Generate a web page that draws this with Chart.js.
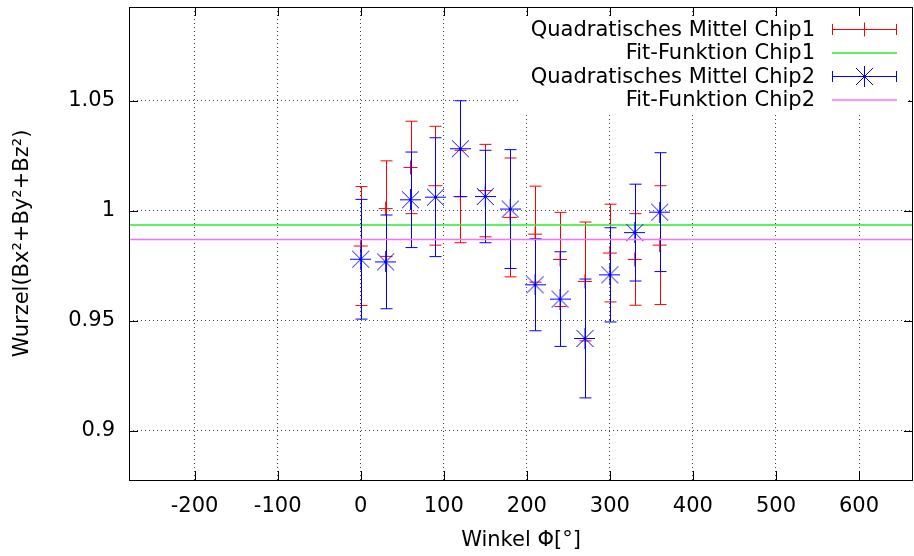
<!DOCTYPE html>
<html>
<head>
<meta charset="utf-8">
<script src="https://cdn.jsdelivr.net/npm/chart.js@4"></script>
<style>
  html, body { margin: 0; padding: 0; background: #fff; }
  #wrap { width: 914px; height: 556px; }
</style>
</head>
<body>
<div id="wrap"><canvas id="myChart" width="914" height="556"></canvas></div>
<script>
// Winkel in Grad
const winkel = [0, 30, 60, 90, 120, 150, 180, 210, 240, 270, 300, 330, 360];

// Chip1: Mittelwert und Fehler
const chip1Mittel = [0.984, 1.001, 1.0197, 1.0114, 1.0065, 1.0092, 0.997, 0.9894, 0.9779, 0.9679, 0.9808, 0.9779, 0.9844];
const chip1Fehler = [0.027, 0.0217, 0.021, 0.027, 0.021, 0.021, 0.027, 0.0218, 0.0214, 0.027, 0.0222, 0.0208, 0.027];

// Chip2: Mittelwert und Fehler
const chip2Mittel = [0.978, 0.9768, 1.005, 1.0062, 1.0282, 1.0065, 1.0008, 0.9664, 0.9599, 0.942, 0.9709, 0.9901, 0.9994];
const chip2Fehler = [0.0272, 0.0213, 0.0217, 0.027, 0.0218, 0.021, 0.027, 0.0209, 0.0215, 0.027, 0.0214, 0.022, 0.027];

// konstante Fit-Funktionen
const fitChip1 = 0.9935;
const fitChip2 = 0.987;

const xBereich = [-279, 665];
const yBereich = [0.8777, 1.0926];

const schrift = { family: "'DejaVu Sans', sans-serif", size: 21 };

function punkte(ys) {
    return winkel.map((w, i) => ({ x: w, y: ys[i] }));
}
function konstante(c) {
    return xBereich.map(x => ({ x: x, y: c }));
}

// gnuplot-Stern: + und x gleich gross
function sternBild(r, farbe) {
    const c = document.createElement('canvas');
    c.width = c.height = 2 * r + 1;
    const g = c.getContext('2d');
    g.strokeStyle = farbe;
    g.lineWidth = 1;
    const m = r + 0.5, d = r * 0.85;
    g.beginPath();
    g.moveTo(0, m); g.lineTo(2 * r + 1, m);
    g.moveTo(m, 0); g.lineTo(m, 2 * r + 1);
    g.moveTo(m - d, m - d); g.lineTo(m + d, m + d);
    g.moveTo(m - d, m + d); g.lineTo(m + d, m - d);
    g.stroke();
    return c;
}

// Fehlerbalken zeichnen (unter den Punkten)
const errorBars = {
    id: 'errorBars',
    beforeDatasetDraw(chart, args) {
        const ds = chart.data.datasets[args.index];
        if (!ds.fehler) return;
        const ctx = chart.ctx;
        const xs = chart.scales.x, ys = chart.scales.y;
        ctx.save();
        ctx.strokeStyle = ds.borderColor;
        ctx.lineWidth = 1;
        ds.data.forEach((p, i) => {
            const px = Math.round(xs.getPixelForValue(p.x)) + 0.5;
            const lo = ys.getPixelForValue(p.y - ds.fehler[i]);
            const hi = ys.getPixelForValue(p.y + ds.fehler[i]);
            ctx.beginPath();
            ctx.moveTo(px, lo); ctx.lineTo(px, hi);
            ctx.moveTo(px - 6, lo); ctx.lineTo(px + 6, lo);
            ctx.moveTo(px - 6, hi); ctx.lineTo(px + 6, hi);
            ctx.stroke();
        });
        ctx.restore();
    }
};

// Rahmen und Striche nach innen (gnuplot-Stil)
const frame = {
    id: 'frame',
    afterDatasetsDraw(chart) {
        const ctx = chart.ctx;
        const a = chart.chartArea;
        const xs = chart.scales.x, ys = chart.scales.y;
        ctx.save();
        ctx.strokeStyle = '#000';
        ctx.lineWidth = 1;
        ctx.beginPath();
        xs.ticks.forEach(t => {
            const px = Math.round(xs.getPixelForValue(t.value)) + 0.5;
            ctx.moveTo(px, a.bottom); ctx.lineTo(px, a.bottom - 9);
            ctx.moveTo(px, a.top); ctx.lineTo(px, a.top + 9);
        });
        ys.ticks.forEach(t => {
            const py = Math.round(ys.getPixelForValue(t.value)) + 0.5;
            ctx.moveTo(a.left, py); ctx.lineTo(a.left + 9, py);
            ctx.moveTo(a.right, py); ctx.lineTo(a.right - 9, py);
        });
        ctx.stroke();
        ctx.strokeRect(Math.round(a.left) + 0.5, Math.round(a.top) + 0.5,
            Math.round(a.right - a.left) - 1, Math.round(a.bottom - a.top));
        ctx.restore();
    }
};

// Legende rechts oben, Text rechtsbündig, Muster rechts daneben
const legende = {
    id: 'legende',
    afterDraw(chart) {
        const ctx = chart.ctx;
        ctx.save();
        ctx.fillStyle = '#fff';
        ctx.fillRect(520, 17, 388, 96);
        ctx.font = schrift.size + 'px ' + schrift.family;
        ctx.textAlign = 'right';
        ctx.textBaseline = 'middle';
        chart.data.datasets.forEach((ds, i) => {
            const y = 29.5 + i * 23.5;
            ctx.fillStyle = '#000';
            ctx.fillText(ds.label, 815, y + 1);
            ctx.strokeStyle = ds.borderColor;
            ctx.lineWidth = ds.fehler ? 1 : ds.borderWidth;
            ctx.beginPath();
            ctx.moveTo(832, y); ctx.lineTo(897, y);
            if (ds.fehler) {
                ctx.moveTo(832.5, y - 5.5); ctx.lineTo(832.5, y + 5.5);
                ctx.moveTo(896.5, y - 5.5); ctx.lineTo(896.5, y + 5.5);
            }
            ctx.stroke();
            if (ds.fehler) {
                ctx.strokeStyle = ds.borderColor;
                Chart.helpers.drawPoint(ctx, {
                    pointStyle: ds.pointStyle, radius: ds.pointRadius, rotation: 0, borderWidth: 1
                }, 864.5, y);
            }
        });
        ctx.restore();
    }
};

const ctx = document.getElementById('myChart').getContext('2d');
const myChart = new Chart(ctx, {
    type: 'scatter',
    data: {
        datasets: [
            {
                label: 'Quadratisches Mittel Chip1',
                data: punkte(chip1Mittel),
                fehler: chip1Fehler,
                borderColor: 'rgb(255, 0, 0)',
                backgroundColor: 'rgb(255, 0, 0)',
                pointStyle: 'cross',
                pointRadius: 7,
                borderWidth: 1,
                order: 4
            },
            {
                label: 'Fit-Funktion Chip1',
                data: konstante(fitChip1),
                showLine: true,
                borderColor: 'rgb(40, 235, 40)',
                borderWidth: 1.5,
                pointRadius: 0,
                order: 3
            },
            {
                label: 'Quadratisches Mittel Chip2',
                data: punkte(chip2Mittel),
                fehler: chip2Fehler,
                borderColor: 'rgb(0, 0, 255)',
                backgroundColor: 'rgb(0, 0, 255)',
                pointStyle: sternBild(10, 'rgb(0, 0, 255)'),
                pointRadius: 10,
                borderWidth: 1,
                order: 2
            },
            {
                label: 'Fit-Funktion Chip2',
                data: konstante(fitChip2),
                showLine: true,
                borderColor: 'rgb(255, 110, 255)',
                borderWidth: 1.5,
                pointRadius: 0,
                order: 1
            }
        ]
    },
    options: {
        responsive: false,
        animation: false,
        events: [],
        layout: { autoPadding: false, padding: { top: 7, right: 1, left: 0, bottom: 0 } },
        plugins: {
            legend: { display: false },
            tooltip: { enabled: false }
        },
        scales: {
            x: {
                type: 'linear',
                min: xBereich[0],
                max: xBereich[1],
                afterFit(scale) {
                    scale.height = 76;
                    scale.paddingLeft = 0; scale.paddingRight = 0;
                },
                ticks: { stepSize: 100, includeBounds: false, color: '#000', font: schrift, padding: 14, maxRotation: 0 },
                grid: { color: '#444', drawTicks: false, lineWidth: 1 },
                border: { display: false, dash: [1, 3] },
                title: { display: true, text: 'Winkel Φ[°]', color: '#000', font: schrift, padding: { top: 0, bottom: 2.5 } }
            },
            y: {
                type: 'linear',
                min: yBereich[0],
                max: yBereich[1],
                afterFit(scale) {
                    scale.width = 129;
                    scale.paddingTop = 0; scale.paddingBottom = 0;
                },
                ticks: {
                    stepSize: 0.05, includeBounds: false, color: '#000', font: schrift, padding: 14,
                    callback: v => String(Number(v.toFixed(2)))
                },
                grid: { color: '#444', drawTicks: false, lineWidth: 1 },
                border: { display: false, dash: [1, 3] },
                title: { display: true, text: 'Wurzel(Bx²+By²+Bz²)', color: '#000', font: schrift, padding: { top: 9.5, bottom: 0 } }
            }
        }
    },
    plugins: [errorBars, frame, legende]
});
</script>
</body>
</html>
